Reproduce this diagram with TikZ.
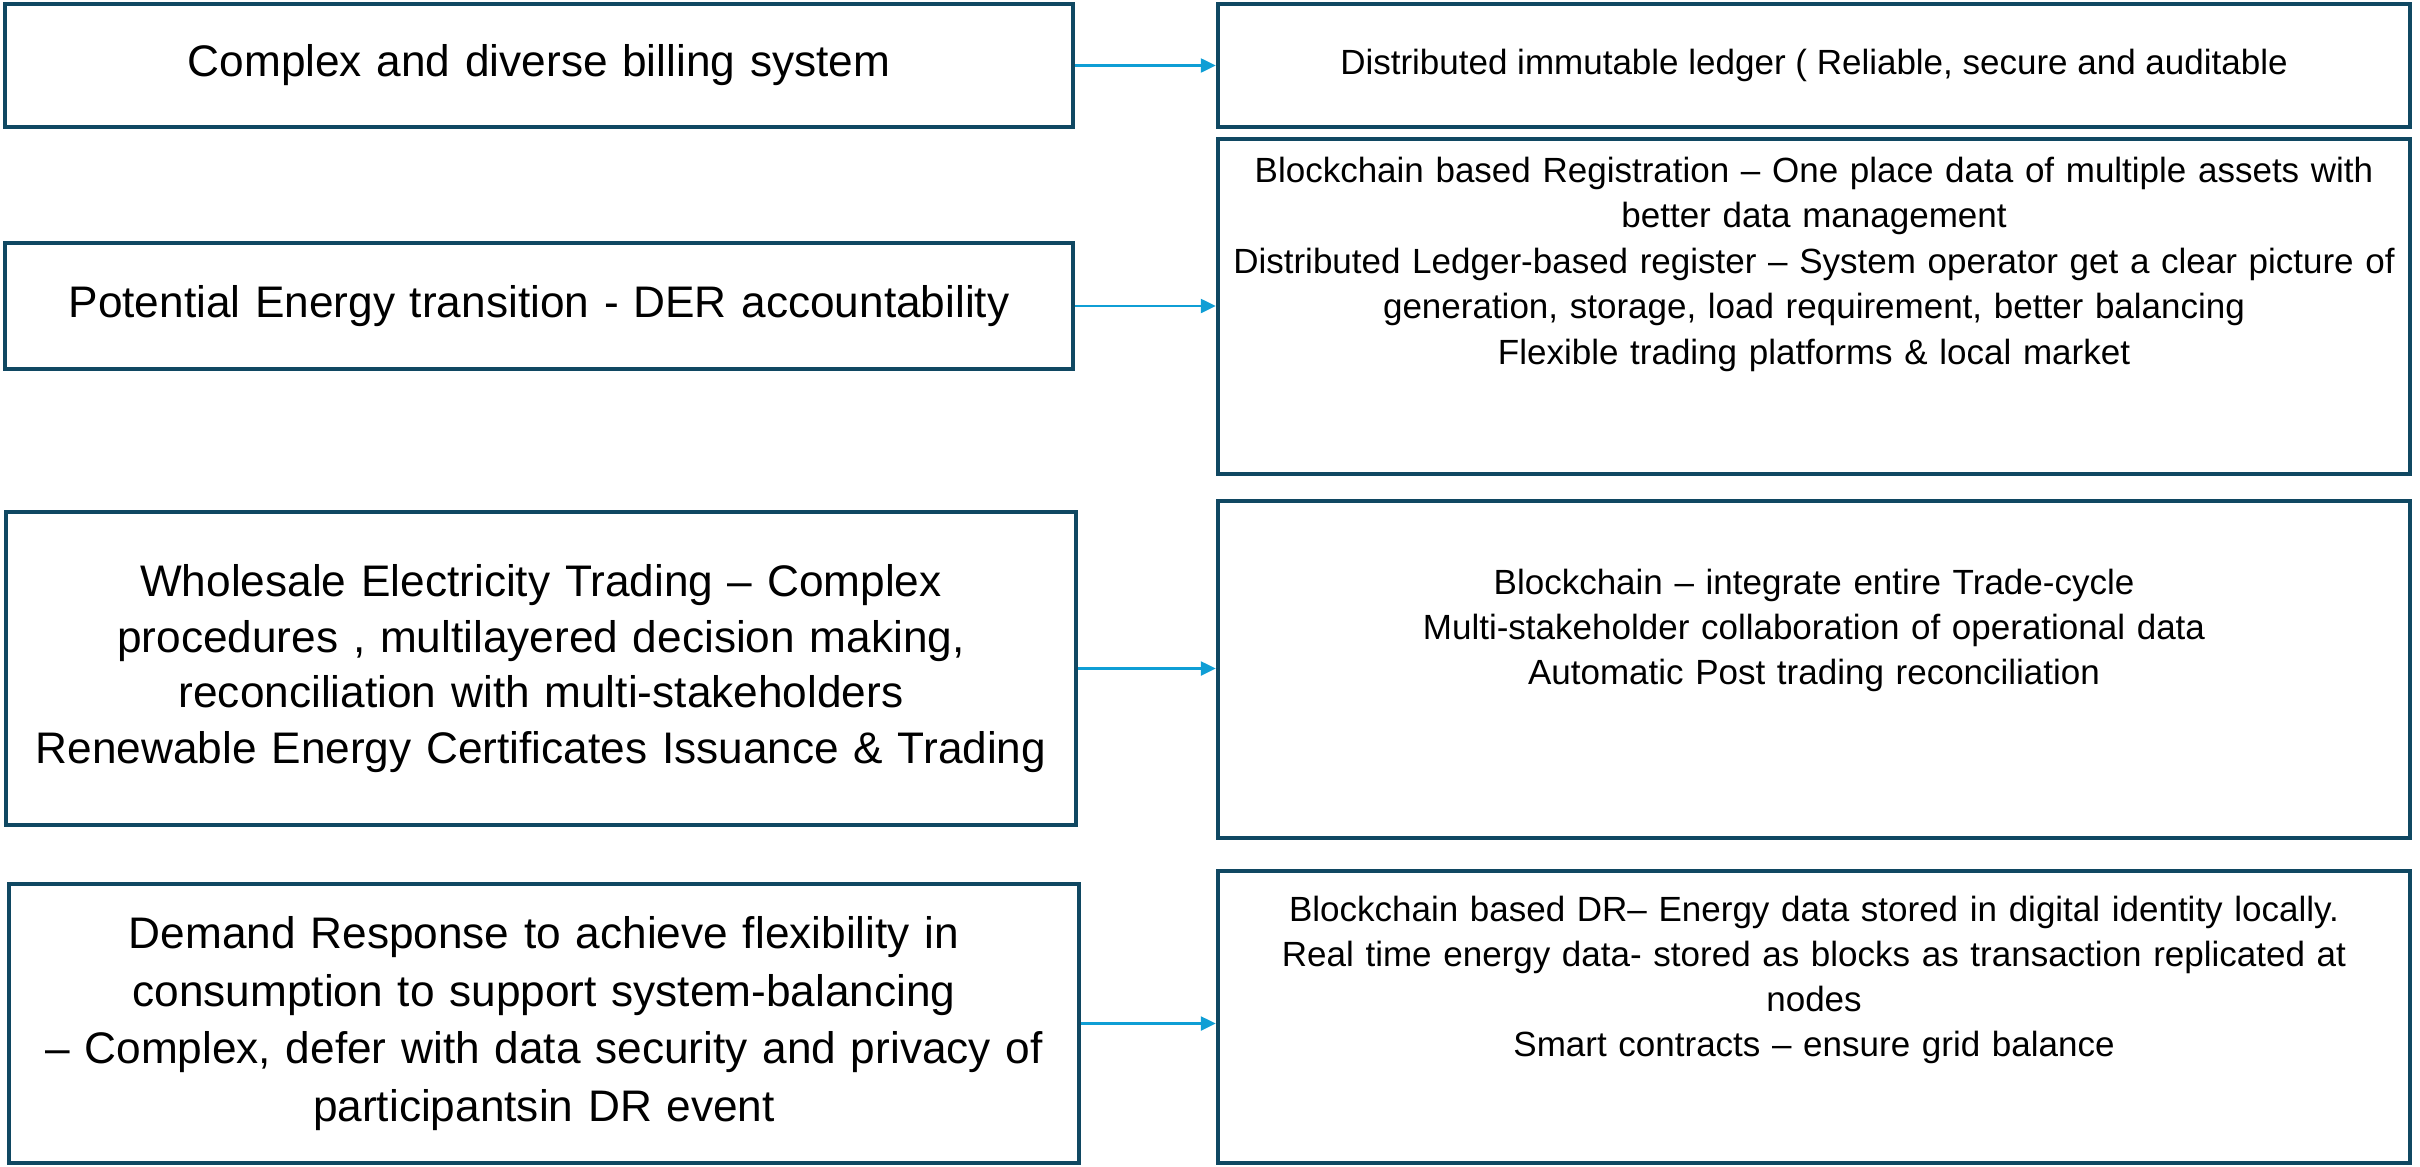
\documentclass[tikz,border=0pt]{standalone}
\usepackage{fontspec}
\setmainfont{Liberation Sans}
\usetikzlibrary{arrows.meta}
\definecolor{boxcol}{HTML}{104862}
\definecolor{arrcol}{HTML}{0F9ED5}
\begin{document}
\begin{tikzpicture}[x=1pt,y=-1pt,
  box/.style={draw=boxcol, line width=4.5pt, rectangle, inner sep=0pt},
  ltext/.style={font=\fontsize{44.2}{57.5}\selectfont, text width=1050pt, align=center},
  rtext/.style={font=\fontsize{35}{45}\selectfont, text width=1180pt, align=center, inner sep=0pt, anchor=base},
  arr/.style={draw=arrcol, line width=2.5pt, -{Triangle[length=15pt,width=14pt]}}]
\useasboundingbox (0,0) rectangle (2420,1167);
% left column
\node[box, ltext, minimum width=1068pt, minimum height=123pt] (l1) at (539,65.5) {Complex and diverse billing system};
\node[box, ltext, minimum width=1068pt, minimum height=126pt] (l2) at (539,306) {Potential Energy transition - DER accountability};
\node[box, ltext, font=\fontsize{44.2}{55.5}\selectfont, minimum width=1070pt, minimum height=313pt] (l3) at (541,668.5) {Wholesale Electricity Trading -- Complex\\ procedures , multilayered decision making,\\ reconciliation with multi-stakeholders\\ Renewable Energy Certificates Issuance \& Trading};
\node[box, ltext, minimum width=1070pt, minimum height=279pt] (l4) at (544,1023.5) {Demand Response to achieve flexibility in\\ consumption to support system-balancing\\ -- Complex, defer with data security and privacy of\\ participantsin DR event};
% right column
\node[box, font=\fontsize{35}{45}\selectfont, minimum width=1192pt, minimum height=123pt] (r1) at (1814,65.5) {Distributed immutable ledger ( Reliable, secure and auditable};
\node[box, minimum width=1192pt, minimum height=335pt] (r2) at (1814,306.5) {};
\node[box, minimum width=1192pt, minimum height=337pt] (r3) at (1814,669.5) {};
\node[box, minimum width=1192pt, minimum height=292pt] (r4) at (1814,1017) {};
\node[rtext, font=\fontsize{35}{45.5}\selectfont] (t2) at (1814,182) {Blockchain based Registration -- One place data of multiple assets with\\ better data management\\ Distributed Ledger-based register -- System operator get a clear picture of\\ generation, storage, load requirement, better balancing\\ Flexible trading platforms \& local market};
\node[rtext] (t3) at (1814,594) {Blockchain -- integrate entire Trade-cycle\\ Multi-stakeholder collaboration of operational data\\ Automatic Post trading reconciliation};
\node[rtext] (t4) at (1814,921) {Blockchain based DR-- Energy data stored in digital identity locally.\\ Real time energy data- stored as blocks as transaction replicated at\\ nodes\\ Smart contracts -- ensure grid balance};
% arrows
\draw[arr] (l1.east) -- (l1.east -| r1.west);
\draw[arr] (l2.east) -- (l2.east -| r2.west);
\draw[arr] (l3.east) -- (l3.east -| r3.west);
\draw[arr] (l4.east) -- (l4.east -| r4.west);
\end{tikzpicture}
\end{document}
